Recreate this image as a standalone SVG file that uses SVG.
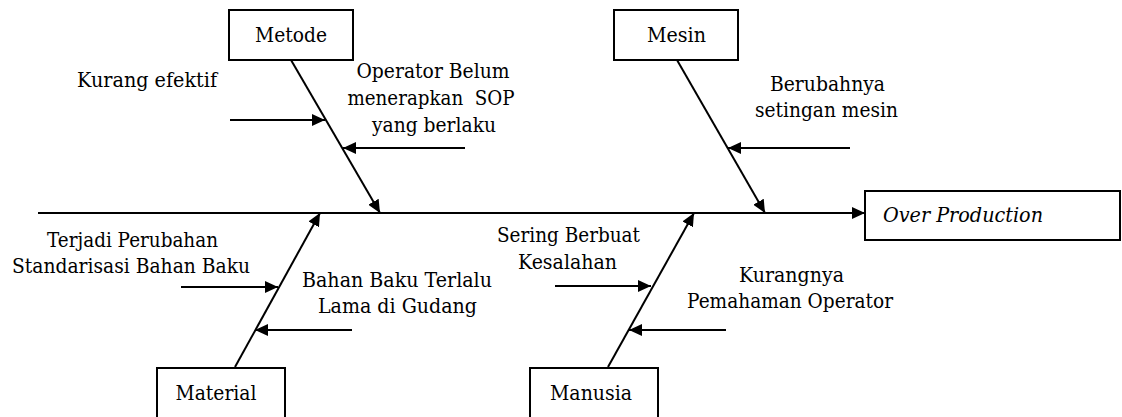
<svg xmlns="http://www.w3.org/2000/svg" width="1122" height="417" viewBox="0 0 1122 417">
<defs>
<marker id="ah" markerUnits="userSpaceOnUse" markerWidth="14" markerHeight="12" refX="13" refY="6" orient="auto">
<path d="M0,0 L13,6 L0,12 z" fill="#000"/>
</marker>
<style>
.box{fill:#fff;stroke:#000;stroke-width:2}
.ln{stroke:#000;stroke-width:2;fill:none;marker-end:url(#ah)}
.c{text-anchor:middle}
text{font-family:"DejaVu Serif","Liberation Serif",serif;font-size:21px;fill:#000}
</style>
</defs>
<rect width="1122" height="417" fill="#fff"/>
<g id="connectors">
<line class="ln" x1="38" y1="213" x2="865" y2="213"/>
<line class="ln" x1="291" y1="60" x2="380" y2="213"/>
<line class="ln" x1="677" y1="60" x2="765" y2="213"/>
<line class="ln" x1="235" y1="367" x2="320" y2="213"/>
<line class="ln" x1="608" y1="367" x2="694" y2="213"/>
<line class="ln" x1="230" y1="120" x2="325" y2="120"/>
<line class="ln" x1="465" y1="148" x2="343" y2="148"/>
<line class="ln" x1="850" y1="148" x2="728" y2="148"/>
<line class="ln" x1="181" y1="287" x2="278" y2="287"/>
<line class="ln" x1="352" y1="330" x2="255" y2="330"/>
<line class="ln" x1="555" y1="286" x2="651" y2="286"/>
<line class="ln" x1="726" y1="330" x2="629" y2="330"/>
</g>
<g id="metode">
<rect class="box" x="229" y="10" width="124" height="50"/>
<text class="c" x="291" y="42" textLength="72" lengthAdjust="spacingAndGlyphs">Metode</text>
</g>
<g id="mesin">
<rect class="box" x="614" y="10" width="124" height="50"/>
<text class="c" x="676.5" y="42" textLength="59" lengthAdjust="spacingAndGlyphs">Mesin</text>
</g>
<g id="material">
<rect class="box" x="157" y="368" width="128" height="60"/>
<text class="c" x="216" y="400" textLength="81" lengthAdjust="spacingAndGlyphs">Material</text>
</g>
<g id="manusia">
<rect class="box" x="530" y="368" width="128" height="60"/>
<text class="c" x="591" y="400" textLength="82" lengthAdjust="spacingAndGlyphs">Manusia</text>
</g>
<g id="over-production">
<rect class="box" x="865" y="191" width="255" height="49"/>
<text x="883" y="222" font-style="italic" textLength="160" lengthAdjust="spacingAndGlyphs">Over Production</text>
</g>
<g id="cause-kurang-efektif">
<text x="77" y="87" textLength="140" lengthAdjust="spacingAndGlyphs">Kurang efektif</text>
</g>
<g id="cause-operator-sop">
<text class="c" x="433" y="78" textLength="153" lengthAdjust="spacingAndGlyphs">Operator Belum</text>
<text class="c" x="431" y="105" textLength="167" lengthAdjust="spacingAndGlyphs" xml:space="preserve">menerapkan  SOP</text>
<text class="c" x="434" y="132" textLength="124" lengthAdjust="spacingAndGlyphs">yang berlaku</text>
</g>
<g id="cause-setingan-mesin">
<text class="c" x="827.5" y="91" textLength="115" lengthAdjust="spacingAndGlyphs">Berubahnya</text>
<text class="c" x="826.5" y="117" textLength="143" lengthAdjust="spacingAndGlyphs">setingan mesin</text>
</g>
<g id="cause-standarisasi">
<text class="c" x="132.5" y="247" textLength="171" lengthAdjust="spacingAndGlyphs">Terjadi Perubahan</text>
<text class="c" x="131" y="273" textLength="238" lengthAdjust="spacingAndGlyphs">Standarisasi Bahan Baku</text>
</g>
<g id="cause-bahan-baku-lama">
<text class="c" x="397" y="287" textLength="190" lengthAdjust="spacingAndGlyphs">Bahan Baku Terlalu</text>
<text class="c" x="397.5" y="313" textLength="159" lengthAdjust="spacingAndGlyphs">Lama di Gudang</text>
</g>
<g id="cause-kesalahan">
<text class="c" x="568.5" y="242" textLength="143" lengthAdjust="spacingAndGlyphs">Sering Berbuat</text>
<text class="c" x="567.5" y="269" textLength="99" lengthAdjust="spacingAndGlyphs">Kesalahan</text>
</g>
<g id="cause-pemahaman">
<text class="c" x="791.5" y="282" textLength="105" lengthAdjust="spacingAndGlyphs">Kurangnya</text>
<text class="c" x="790" y="308" textLength="206" lengthAdjust="spacingAndGlyphs">Pemahaman Operator</text>
</g>
</svg>
